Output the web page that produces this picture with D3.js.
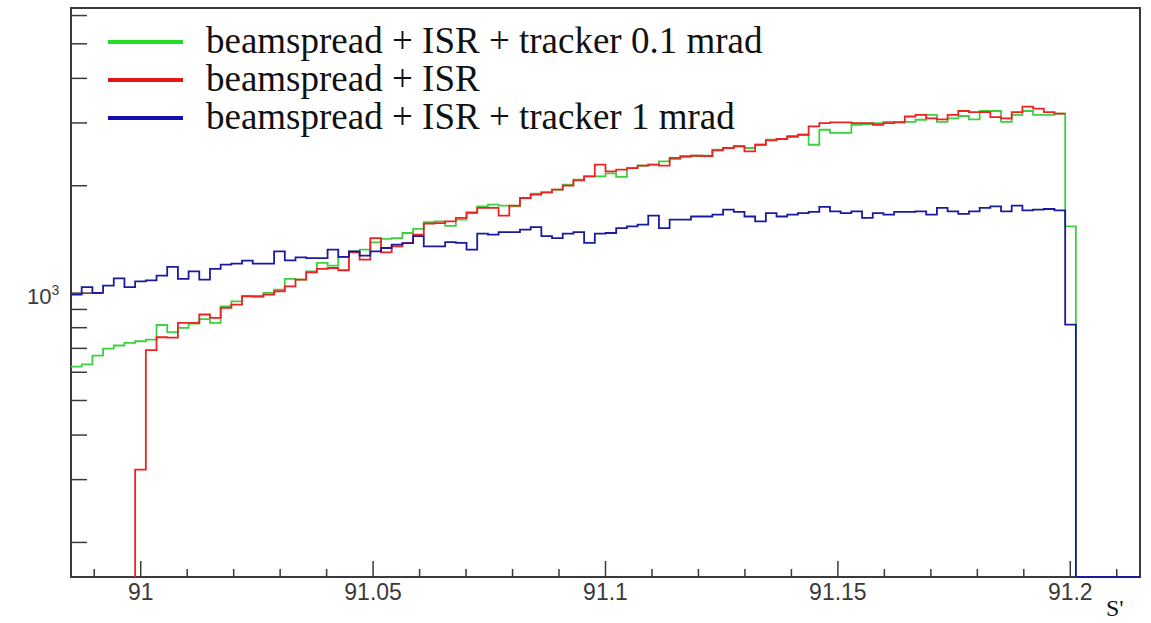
<!DOCTYPE html>
<html><head><meta charset="utf-8">
<script src="https://cdn.jsdelivr.net/npm/d3@7"></script>
<style>body{margin:0;background:#fff} svg{display:block}</style>
</head><body>
<svg id="c" width="1151" height="623"></svg>
<script>
// ---- data ----
const binRange = [90.985, 91.215];
const nBins = 100;
const yRange = [160, 6300];
const xMajorTicks = [91, 91.05, 91.1, 91.15, 91.2];
const xTickLabels = ["91", "91.05", "91.1", "91.15", "91.2"];
const yMinorTicks = [200, 300, 400, 500, 600, 700, 800, 900, 2000, 3000, 4000, 5000, 6000];
const yMajorTicks = [1000];
const seriesNames = ["beamspread + ISR + tracker 0.1 mrad", "beamspread + ISR", "beamspread + ISR + tracker 1 mrad"];
const axisTitle = "S'";

const greenVals = [
622,631,668,699,713,725,733,741,814,777,
799,821,845,825,918,948,980,976,1001,1023,
1096,1091,1151,1215,1194,1263,1309,1324,1388,1419,
1427,1474,1513,1580,1590,1543,1607,1677,1751,1770,
1758,1751,1848,1900,1915,1950,2014,2080,2125,2125,
2165,2119,2240,2276,2291,2341,2377,2408,2427,2427,
2523,2552,2581,2552,2606,2692,2704,2739,2780,2606,
2871,2813,2813,2965,2978,2998,3020,3020,3020,3062,
3162,3020,3090,3137,3071,3240,3240,3020,3162,3240,
3162,3162,3186,1539,0,0,0,0,0,0];
const redVals = [
null,null,null,null,null,null,320,692,752,750,
825,825,871,852,909,929,980,980,990,1012,
1045,1091,1144,1169,1176,1159,1301,1241,1427,1301,
1353,1380,1458,1566,1572,1590,1625,1683,1733,1733,
1650,1758,1848,1888,1915,1950,2001,2071,2125,2291,
2195,2218,2240,2276,2291,2276,2393,2421,2427,2421,
2513,2552,2581,2498,2606,2680,2704,2753,2780,2935,
2998,3010,3010,2998,2998,2965,2998,3010,3127,3162,
3090,3071,3162,3240,3217,3217,3115,3090,3217,3335,
3292,3217,3186,null,null,null,null,null,null,null];
const blueVals = [
990,1040,1001,1049,1100,1040,1079,1086,1119,1184,
1096,1150,1091,1169,1202,1209,1233,1209,1209,1309,
1236,1260,1254,1254,1324,1263,1309,1274,1309,1338,
1367,1380,1444,1353,1353,1390,1383,1324,1468,1458,
1483,1483,1506,1531,1444,1427,1468,1483,1383,1468,
1474,1522,1539,1556,1650,1522,1607,1607,1640,1640,
1660,1714,1689,1640,1590,1677,1640,1660,1677,1689,
1744,1695,1677,1695,1625,1677,1660,1689,1689,1695,
1660,1733,1695,1667,1695,1733,1751,1695,1758,1706,
1714,1721,1706,816,0,0,0,0,0,0];

// ---- layout ----
const L = 71, R = 1140, T = 8, B = 577;
const svg = d3.select("#c");
const x = d3.scaleLinear().domain(binRange).range([L, R]);
const y = d3.scaleLog().domain(yRange).range([B, T]);
const binW = (binRange[1] - binRange[0]) / nBins;

const axisCol = "#3a3a3a";
const sans = "'Liberation Sans', Arial, Helvetica, sans-serif";
const serif = "'Liberation Serif', 'Times New Roman', serif";

svg.append("defs").append("clipPath").attr("id", "pc")
  .append("rect").attr("x", L).attr("y", T).attr("width", R - L).attr("height", B - T + 1);

// frame
svg.append("rect").attr("x", L).attr("y", T).attr("width", R - L).attr("height", B - T)
  .attr("fill", "none").attr("stroke", axisCol).attr("stroke-width", 2);

// x ticks
const xMinor = d3.range(0, 23).map(k => +(90.99 + k * 0.01).toFixed(3)).filter(v => v < binRange[1]);
svg.append("g").selectAll("line").data(xMinor).join("line")
  .attr("x1", d => x(d)).attr("x2", d => x(d))
  .attr("y1", B).attr("y2", d => xMajorTicks.some(m => Math.abs(m - d) < 1e-6) ? B - 16 : B - 8)
  .attr("stroke", axisCol).attr("stroke-width", 1.5);
svg.append("g").selectAll("text").data(xMajorTicks).join("text")
  .attr("x", d => x(d)).attr("y", 600).attr("text-anchor", "middle")
  .attr("font-family", sans).attr("font-size", 23).attr("fill", "#3a3a3a")
  .text((d, i) => xTickLabels[i]);

// y ticks
svg.append("g").selectAll("line").data(yMinorTicks).join("line")
  .attr("x1", L).attr("x2", L + 16).attr("y1", d => y(d)).attr("y2", d => y(d))
  .attr("stroke", axisCol).attr("stroke-width", 1.5);
svg.append("g").selectAll("line").data(yMajorTicks).join("line")
  .attr("x1", L).attr("x2", L + 31).attr("y1", d => y(d)).attr("y2", d => y(d))
  .attr("stroke", axisCol).attr("stroke-width", 1.5);
const yl = svg.append("g").selectAll("text").data(yMajorTicks).join("text")
  .attr("x", 27).attr("y", d => y(d) + 11)
  .attr("font-family", sans).attr("font-size", 22).attr("fill", "#3a3a3a");
yl.append("tspan").text(d => String(d).slice(0, 2));
yl.append("tspan").attr("dy", -9).attr("font-size", 14).text(d => Math.round(Math.log10(d)));

// histograms
function stepPts(vals) {
  const pts = [];
  let started = false, lastY = B, lastI = 0;
  vals.forEach((v, i) => {
    if (v === null) return;
    const xe = x(binRange[0] + i * binW);
    const yy = v > yRange[0] ? y(v) : B;
    if (!started && i > 0) pts.push([xe, B]);
    started = true;
    pts.push([xe, yy]);
    lastY = yy; lastI = i;
  });
  pts.push([x(binRange[0] + (lastI + 1) * binW), lastY]);
  return pts;
}
const line = d3.line().curve(d3.curveStepAfter);
const hg = svg.append("g").attr("clip-path", "url(#pc)");
const series = [
  { vals: greenVals, col: "#3fcf3f" },
  { vals: redVals, col: "#ee2222" },
  { vals: blueVals, col: "#1a1aa0" }
];
series.forEach(s => {
  hg.append("path").attr("d", line(stepPts(s.vals)))
    .attr("fill", "none").attr("stroke", s.col).attr("stroke-width", 1.8);
});

// legend
const legCols = ["#22dd22", "#e01818", "#1010b0"];
const lg = svg.append("g");
seriesNames.forEach((n, i) => {
  const ly = 42 + i * 38;
  lg.append("line").attr("x1", 108).attr("x2", 183).attr("y1", ly).attr("y2", ly)
    .attr("stroke", legCols[i]).attr("stroke-width", 4);
  lg.append("text").attr("x", 206).attr("y", ly + 10.5)
    .attr("font-family", serif).attr("font-size", 37).attr("fill", "#111").text(n);
});

// axis title
svg.append("text").attr("x", 1106).attr("y", 616)
  .attr("font-family", serif).attr("font-size", 24).attr("fill", "#111").text(axisTitle);
</script>
</body></html>
